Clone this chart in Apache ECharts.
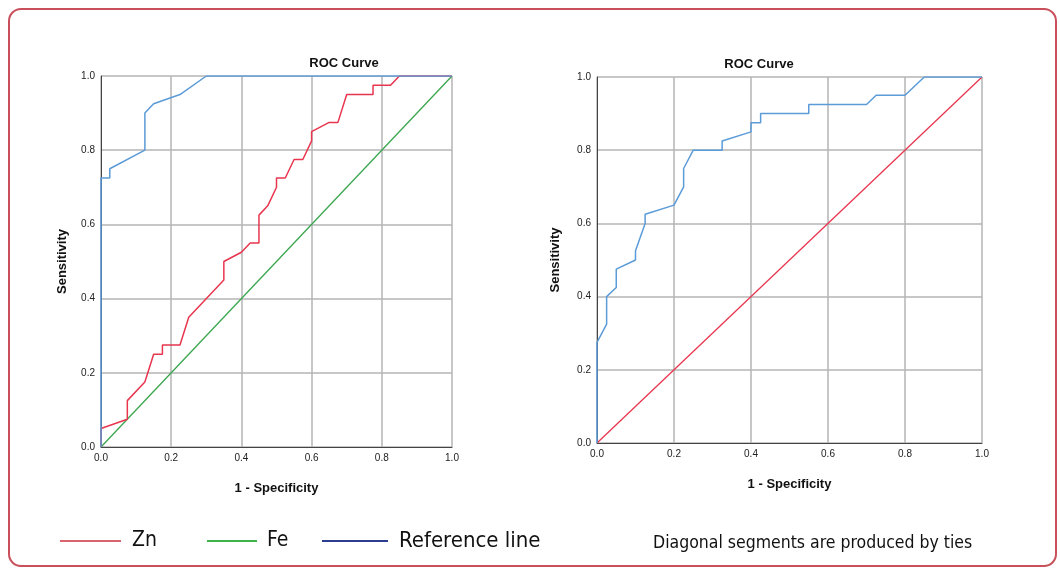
<!DOCTYPE html>
<html><head><meta charset="utf-8">
<script src="https://cdn.jsdelivr.net/npm/echarts@6/dist/echarts.min.js"></script>
<style>html,body{margin:0;padding:0;background:#fff}#c{width:1060px;height:568px}</style>
</head><body><div id="c"></div>
<script>
// ---- data ----
const chartTitles = ['ROC Curve', 'ROC Curve'];
const xAxisName = '1 - Specificity';
const yAxisName = 'Sensitivity';
const legendNames = ['Zn', 'Fe', 'Reference line'];
const footnote = 'Diagonal segments are produced by ties';

const leftBlue = [[0,0],[0,0.725],[0.025,0.725],[0.025,0.75],[0.125,0.8],[0.125,0.9],[0.15,0.925],[0.225,0.95],[0.3,1],[1,1]];
const leftRed = [[0,0],[0,0.05],[0.075,0.075],[0.075,0.125],[0.125,0.175],[0.15,0.25],[0.175,0.25],[0.175,0.275],[0.225,0.275],[0.25,0.35],[0.35,0.45],[0.35,0.5],[0.4,0.525],[0.425,0.55],[0.45,0.55],[0.45,0.625],[0.475,0.65],[0.5,0.7],[0.5,0.725],[0.525,0.725],[0.55,0.775],[0.575,0.775],[0.6,0.825],[0.6,0.85],[0.65,0.875],[0.675,0.875],[0.7,0.95],[0.775,0.95],[0.775,0.975],[0.825,0.975],[0.85,1],[1,1]];
const leftDiagonal = [[0,0],[1,1]];
const rightBlue = [[0,0],[0,0.275],[0.025,0.325],[0.025,0.4],[0.05,0.425],[0.05,0.475],[0.1,0.5],[0.1,0.525],[0.125,0.6],[0.125,0.625],[0.2,0.65],[0.225,0.7],[0.225,0.75],[0.25,0.8],[0.325,0.8],[0.325,0.825],[0.4,0.85],[0.4,0.875],[0.425,0.875],[0.425,0.9],[0.55,0.9],[0.55,0.925],[0.7,0.925],[0.725,0.95],[0.8,0.95],[0.85,1],[1,1]];
const rightDiagonal = [[0,0],[1,1]];

// ---- styles ----
const FONT = 'Liberation Sans, Arial, sans-serif';
const NARROW = 'Liberation Sans Narrow, DejaVu Sans Condensed, sans-serif';
const BLUE = '#5b9bd8', RED = '#e8364f', GREEN = '#3aa64e';
const gridColor = '#b5b5b5';

function xAx(gi, gap) {
  return {
    gridIndex: gi, type: 'value', min: 0, max: 1, interval: 0.2,
    name: xAxisName, nameLocation: 'middle', nameGap: gap,
    nameTextStyle: {fontFamily: FONT, fontWeight: 'bold', fontSize: 13, color: '#111'},
    axisLine: {show: true, onZero: false, lineStyle: {color: '#444', width: 1}},
    axisTick: {show: false},
    axisLabel: {formatter: v => v.toFixed(1), fontFamily: FONT, fontSize: 10, color: '#222', margin: 6},
    splitLine: {show: true, lineStyle: {color: gridColor, width: 1.5}}
  };
}
function yAx(gi, gap) {
  return {
    gridIndex: gi, type: 'value', min: 0, max: 1, interval: 0.2,
    name: yAxisName, nameLocation: 'middle', nameGap: gap, nameRotate: 90,
    nameTextStyle: {fontFamily: FONT, fontWeight: 'bold', fontSize: 13, color: '#111'},
    axisLine: {show: true, onZero: false, lineStyle: {color: '#444', width: 1}},
    axisTick: {show: false},
    axisLabel: {formatter: v => v.toFixed(1), fontFamily: FONT, fontSize: 10, color: '#222', margin: 6},
    splitLine: {show: true, lineStyle: {color: gridColor, width: 1.5}}
  };
}
function ser(name, data, gi, color, w) {
  return {name, type: 'line', xAxisIndex: gi, yAxisIndex: gi, data, showSymbol: false, symbol: 'none',
    lineStyle: {color, width: w}, itemStyle: {color}, animation: false, z: 3};
}

const chart = echarts.init(document.getElementById('c'), null, {renderer: 'canvas'});
chart.setOption({
  animation: false,
  backgroundColor: '#fff',
  grid: [
    {left: 101, top: 76, width: 351, height: 371},
    {left: 597, top: 77, width: 385, height: 366}
  ],
  xAxis: [xAx(0, 35), xAx(1, 35)],
  yAxis: [yAx(0, 32), yAx(1, 35)],
  series: [
    ser('Fe diagonal', leftDiagonal, 0, GREEN, 1.3),
    ser('Zn', leftRed, 0, RED, 1.5),
    ser('Curve', leftBlue, 0, BLUE, 1.5),
    ser('Reference', rightDiagonal, 1, RED, 1.3),
    ser('Curve R', rightBlue, 1, BLUE, 1.5)
  ],
  graphic: [
    {type: 'rect', shape: {x: 9, y: 9, width: 1047, height: 557, r: 12}, silent: true,
      style: {fill: 'none', stroke: '#c9505a', lineWidth: 2}},
    {type: 'text', x: 344, y: 63, style: {text: chartTitles[0], align: 'center', verticalAlign: 'middle', font: 'bold 13px ' + FONT, fill: '#111'}},
    {type: 'text', x: 759, y: 64, style: {text: chartTitles[1], align: 'center', verticalAlign: 'middle', font: 'bold 13px ' + FONT, fill: '#111'}},
    {type: 'line', shape: {x1: 60, y1: 541, x2: 121, y2: 541}, style: {stroke: '#d9646e', lineWidth: 2}},
    {type: 'text', x: 132, y: 541, style: {text: legendNames[0], verticalAlign: 'middle', font: '21px ' + NARROW, fill: '#111'}},
    {type: 'line', shape: {x1: 207, y1: 541, x2: 257, y2: 541}, style: {stroke: '#3cb44a', lineWidth: 2}},
    {type: 'text', x: 267, y: 541, style: {text: legendNames[1], verticalAlign: 'middle', font: '21px ' + NARROW, fill: '#111'}},
    {type: 'line', shape: {x1: 322, y1: 541, x2: 388, y2: 541}, style: {stroke: '#2b3d8f', lineWidth: 2}},
    {type: 'text', x: 399, y: 541, style: {text: legendNames[2], verticalAlign: 'middle', font: '22px ' + NARROW, fill: '#111'}},
    {type: 'text', x: 653, y: 543, style: {text: footnote, verticalAlign: 'middle', font: '17.5px ' + NARROW, fill: '#111'}}
  ]
});
</script></body></html>
